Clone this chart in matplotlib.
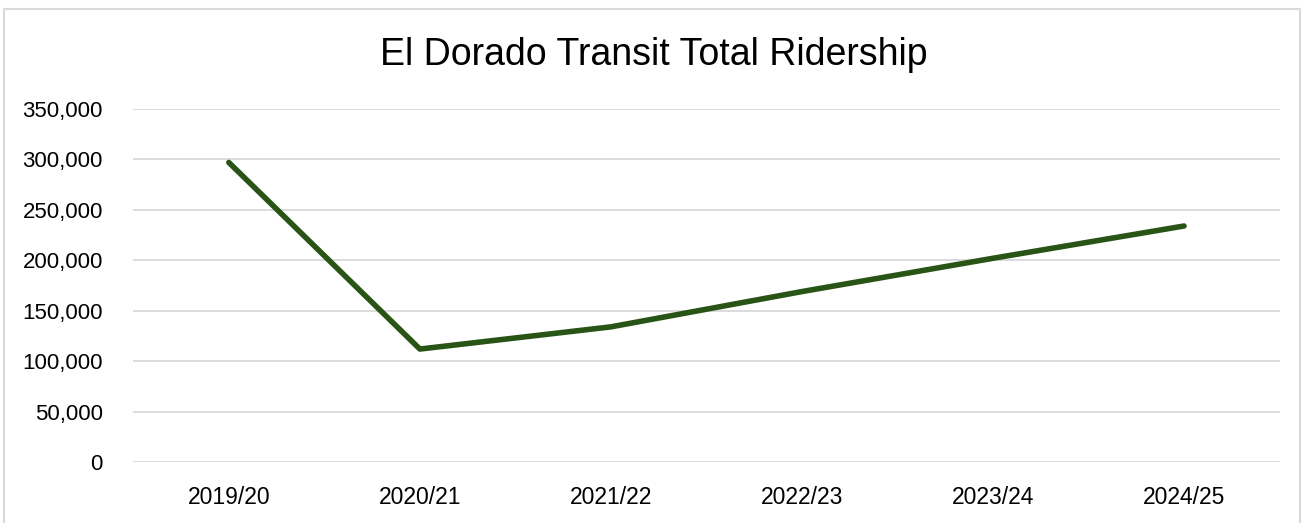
import matplotlib.pyplot as plt
from matplotlib.patches import Rectangle
from matplotlib.ticker import FuncFormatter

years = ["2019/20", "2020/21", "2021/22", "2022/23", "2023/24", "2024/25"]
riders = [297000, 112000, 134000, 169000, 202000, 234000]

plt.rcParams['font.family'] = ['Liberation Sans', 'DejaVu Sans']

fig = plt.figure(figsize=(13.07, 5.23), dpi=100)
ax = fig.add_axes([0.102, 0.1166, 0.877, 0.675])

x = list(range(len(years)))
ax.plot(x, riders, color='#285416', linewidth=4.0, solid_capstyle='round',
        solid_joinstyle='round', zorder=3)

ax.set_xlim(-0.5, len(years) - 0.5)
ax.set_ylim(0, 350000)
ax.set_yticks(range(0, 350001, 50000))
ax.yaxis.set_major_formatter(FuncFormatter(lambda v, p: f"{int(v):,}"))
ax.set_xticks(x)
ax.set_xticklabels(years)
ax.tick_params(axis='y', length=0, labelsize=16, colors='#000000', pad=22)
ax.tick_params(axis='x', length=0, labelsize=16.5, colors='#000000', pad=17)
ax.grid(axis='y', color='#d9d9d9', linewidth=1.3)
ax.set_axisbelow(True)
for s in ax.spines.values():
    s.set_visible(False)

fig.text(0.5, 0.895, "El Dorado Transit Total Ridership", ha='center', va='center',
         fontsize=27, family=['Liberation Sans Narrow', 'Liberation Sans', 'DejaVu Sans'])

fig.patches.append(Rectangle((0.003, -0.01), 0.992, 0.993, transform=fig.transFigure,
                             fill=False, edgecolor='#d9d9d9', linewidth=1.5))

fig.savefig("out.png", dpi=100)
